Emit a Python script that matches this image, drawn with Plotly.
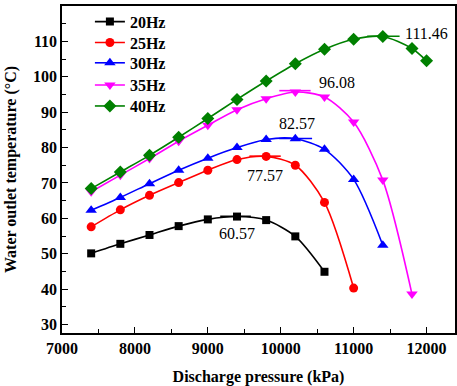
import plotly.graph_objects as go

pressure = [7400, 7800, 8200, 8600, 9000, 9400, 9800, 10200, 10600, 11000, 11400, 11800, 12000]
names = ["20Hz", "25Hz", "30Hz", "35Hz", "40Hz"]
t20 = [50.1, 52.8, 55.3, 57.8, 59.7, 60.5, 59.5, 54.9, 44.9]
t25 = [57.6, 62.4, 66.5, 70.1, 73.6, 76.6, 77.5, 75.0, 64.5, 40.3]
t30 = [62.3, 65.9, 69.8, 73.6, 77.0, 80.0, 82.3, 82.5, 79.5, 71.0, 52.4]
t35 = [67.5, 72.2, 76.9, 81.8, 86.3, 90.7, 93.8, 95.7, 94.3, 87.2, 70.8, 38.6]
t40 = [68.4, 73.1, 77.8, 82.9, 88.2, 93.6, 98.8, 103.7, 107.8, 110.6, 111.4, 108.0, 104.5]
series = [t20, t25, t30, t35, t40]

x_ticks = [7000, 8000, 9000, 10000, 11000, 12000]
x_tick_labels = ["7000", "8000", "9000", "10000", "11000", "12000"]
y_ticks = [30, 40, 50, 60, 70, 80, 90, 100, 110, 120]

peak_values = [60.57, 77.57, 82.57, 96.08, 111.46]
peak_x_start = [9170, 9570, 9980, 9980, 11185]
peak_x_end = [9590, 10000, 10430, 10410, 11630]

colors = ["#000000", "#ff0000", "#0000ff", "#ff00ff", "#008000"]
symbols = ["square", "circle", "triangle-up", "triangle-down", "diamond"]
msizes = [8, 9, 10, 10, 10]

FONT = "Liberation Serif"

# per-entry legend placement (paper y of each legend row)
legend_rows = [0.952, 0.888, 0.826, 0.758, 0.694]
legend_ids = ["legend", "legend2", "legend3", "legend4", "legend5"]

fig = go.Figure()
for name, vals, c, s, ms, lid in zip(names, series, colors, symbols, msizes, legend_ids):
    fig.add_trace(go.Scatter(
        x=pressure[:len(vals)], y=vals, name=name, legend=lid,
        mode="lines+markers", line=dict(color=c, width=1.6, shape="spline", smoothing=0.8),
        marker=dict(symbol=s, size=ms, color=c),
    ))

for xs, xe, pv, c in zip(peak_x_start, peak_x_end, peak_values, colors):
    fig.add_trace(go.Scatter(x=[xs, xe], y=[pv, pv], mode="lines",
                             line=dict(color=c, width=1.6), showlegend=False, hoverinfo="skip"))

# label pixel offsets from the middle of each peak line
label_shift = [(1, -17), (0, -19), (1, 15), (42, 8), (43, 3)]
for xs, xe, pv, (dx, dy) in zip(peak_x_start, peak_x_end, peak_values, label_shift):
    fig.add_annotation(x=(xs + xe) / 2, y=pv, text=f"{pv:.2f}", showarrow=False,
                       xanchor="center", yanchor="middle", xshift=dx, yshift=dy,
                       font=dict(family=FONT, size=16, color="black"))

axis_common = dict(
    showline=True, linecolor="black", linewidth=1.5, mirror=True,
    ticks="inside", ticklen=6, tickwidth=1.2, tickcolor="black",
    showgrid=False, zeroline=False, automargin=False,
    tickfont=dict(family=FONT, size=16, color="black", weight="bold"),
)

fig.update_xaxes(range=[7000, 12390], tickvals=x_ticks, ticktext=x_tick_labels,
                 minor=dict(dtick=500, ticks="inside", ticklen=4, tickcolor="black", tick0=7000),
                 title=dict(text="Discharge pressure (kPa)", font=dict(family=FONT, size=16, color="black", weight="bold"), standoff=16),
                 **axis_common)
fig.update_yaxes(range=[27.6, 120], tickvals=y_ticks,
                 minor=dict(dtick=5, ticks="inside", ticklen=4, tickcolor="black", tick0=30),
                 title=dict(text="Water outlet temperature (°C)", font=dict(family=FONT, size=16, color="black", weight="bold"), standoff=12),
                 **axis_common)

legend_style = dict(x=0.071, xanchor="left", yanchor="middle",
                    bgcolor="rgba(0,0,0,0)", font=dict(family=FONT, size=16, color="black", weight="bold"),
                    itemwidth=30)
layout_legends = {lid: dict(y=ly, **legend_style) for lid, ly in zip(legend_ids, legend_rows)}

fig.update_layout(
    width=457, height=386,
    margin=dict(l=62, r=2, t=6, b=53, autoexpand=False),
    paper_bgcolor="white", plot_bgcolor="white",
    showlegend=True,
    **layout_legends,
)

fig.write_html("out.html", config={"displayModeBar": False},
               post_script="document.body.style.margin='0';document.body.style.overflow='hidden';")
